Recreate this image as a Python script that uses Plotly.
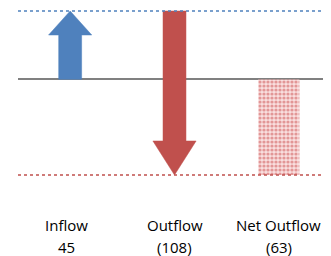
import plotly.graph_objects as go

categories = ["Inflow", "Outflow", "Net Outflow"]
value_labels = ["45", "(108)", "(63)"]
inflow = 45
outflow = -108
net_outflow = inflow + outflow  # -63

BLUE = "#4F81BD"
RED = "#C0504D"

# arrow styling (data units on x, data units on y)
shaft_half = 0.11
head_half = 0.207
head_len = [15.8, 22.4]
label_xshift = [-4, 0, 0]

def arrow_poly(xc, y0, y1, hl):
    d = 1 if y1 > y0 else -1
    yb = y1 - d * hl
    xs = [xc - shaft_half, xc - shaft_half, xc - head_half, xc, xc + head_half,
          xc + shaft_half, xc + shaft_half, xc - shaft_half]
    ys = [y0, yb, yb, y1, yb, yb, y0, y0]
    return xs, ys

fig = go.Figure()

# Inflow arrow: 0 -> 45
xs, ys = arrow_poly(0, 0, inflow, head_len[0])
fig.add_trace(go.Scatter(x=xs, y=ys, fill="toself", fillcolor=BLUE, mode="lines",
                         line=dict(color=BLUE, width=0.5), hoverinfo="skip"))
# Outflow arrow: 45 -> -63
xs, ys = arrow_poly(1, inflow, inflow + outflow, head_len[1])
fig.add_trace(go.Scatter(x=xs, y=ys, fill="toself", fillcolor=RED, mode="lines",
                         line=dict(color=RED, width=0.5), hoverinfo="skip"))
# Net outflow bar
fig.add_trace(go.Bar(x=[2], y=[net_outflow], width=0.395,
                     marker=dict(color="rgba(240,190,190,0.6)",
                                 line=dict(width=0),
                                 pattern=dict(shape=".", size=4, solidity=0.5,
                                              fgcolor="rgba(200,70,70,0.95)",
                                              bgcolor="rgba(245,200,200,0.6)",
                                              fillmode="overlay")),
                     hoverinfo="skip"))

# reference dotted lines
fig.add_shape(type="line", xref="paper", x0=0, x1=1, yref="y", y0=inflow, y1=inflow,
              line=dict(color=BLUE, width=1.5, dash="dot"))
fig.add_shape(type="line", xref="paper", x0=0, x1=1, yref="y", y0=net_outflow, y1=net_outflow,
              line=dict(color=RED, width=1.5, dash="dot"))

FONT = dict(family="Open Sans, Calibri, sans-serif", size=15, color="#000000")
for i, (c, v) in enumerate(zip(categories, value_labels)):
    fig.add_annotation(x=i, xref="x", y=0, yref="paper", yanchor="middle", yshift=-35,
                       xshift=label_xshift[i], text=c, showarrow=False, font=FONT,
                       borderpad=0)
    fig.add_annotation(x=i, xref="x", y=0, yref="paper", yanchor="middle", yshift=-57,
                       xshift=label_xshift[i], text=v, showarrow=False, font=FONT,
                       borderpad=0)

fig.update_layout(
    width=323, height=248,
    margin=dict(l=10, r=0, t=0, b=66),
    paper_bgcolor="white", plot_bgcolor="white",
    showlegend=False,
    xaxis=dict(range=[-0.5, 2.5], showgrid=False, zeroline=False, showticklabels=False,
               ticks="", showline=False, fixedrange=True),
    yaxis=dict(range=[-72.88, 46.98], showgrid=False, zeroline=True, zerolinecolor="#808080",
               zerolinewidth=1.5, showticklabels=False, ticks="", showline=False),
)

fig.write_html("out.html")
